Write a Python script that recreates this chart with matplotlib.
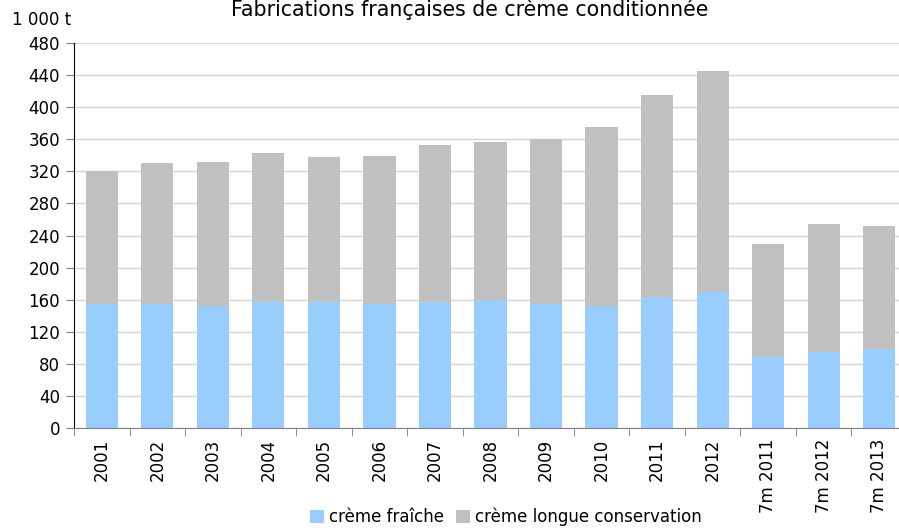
import numpy as np
import matplotlib
matplotlib.use("Agg")
import matplotlib.pyplot as plt

plt.rcParams['font.family'] = ['DejaVu Sans']

# data (1 000 t)
categories = ["2001", "2002", "2003", "2004", "2005", "2006", "2007", "2008",
              "2009", "2010", "2011", "2012", "7m 2011", "7m 2012", "7m 2013"]
creme_fraiche = [155, 155, 152, 157, 157, 155, 157, 160, 155, 152, 163, 170, 88, 95, 98]
total = [320, 331, 332, 343, 338, 339, 353, 356, 360, 375, 415, 445, 230, 254, 252]
creme_longue = [t - f for t, f in zip(total, creme_fraiche)]

blue = "#99CCFF"
grey = "#C0C0C0"

fig = plt.figure(figsize=(8.99, 5.28), dpi=100)
ax = fig.add_axes([74/899, 100/528, (907-74)/899, (428-43)/528])

x = np.arange(len(categories))
ax.bar(x, creme_fraiche, width=0.58, color=blue, label="crème fraîche", zorder=2)
ax.bar(x, creme_longue, bottom=creme_fraiche, width=0.58, color=grey,
       label="crème longue conservation", zorder=2)

ax.set_xlim(-0.5, len(categories) - 0.5)
ax.set_ylim(0, 480)
ax.set_yticks(np.arange(0, 481, 40))
ax.yaxis.grid(True, color="#D4D4D4", linewidth=1, zorder=0)
ax.set_axisbelow(True)

ax.set_xticks(x)
ax.set_xticklabels(categories, rotation=90, fontsize=12)
ax.set_xticks(np.arange(-0.5, len(categories), 1), minor=True)
ax.tick_params(axis="x", which="major", length=0, pad=8)
ax.tick_params(axis="x", which="minor", length=6, color="#808080", direction="out")
ax.tick_params(axis="y", length=6, labelsize=12, direction="out", color="#808080", pad=4)

for s in ["top", "right"]:
    ax.spines[s].set_visible(False)
ax.spines["left"].set_color("black")
ax.spines["bottom"].set_color("#808080")

fig.text(470/899, 1 - 16/528, "Fabrications françaises de crème conditionnée",
         ha="center", va="baseline", fontsize=14.8)
fig.text(12/899, 1 - 20/528, "1 000 t", ha="left", va="center", fontsize=12)

fig.legend(loc="center", bbox_to_anchor=(506/899, 1 - 517/528), ncol=2, frameon=False,
           fontsize=12, handlelength=0.85, handleheight=0.85, handletextpad=0.3,
           columnspacing=0.7)

fig.savefig("out.png", dpi=100)
